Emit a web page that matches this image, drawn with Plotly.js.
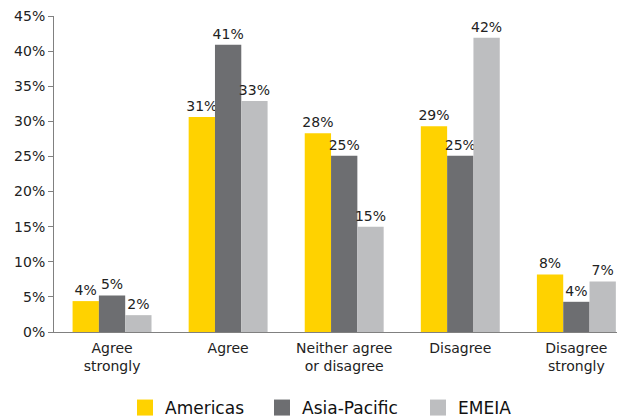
<!DOCTYPE html>
<html>
<head>
<meta charset="utf-8">
<script src="https://cdn.plot.ly/plotly-3.0.1.min.js"></script>
<style>html,body{margin:0;padding:0;background:#fff}#chart{width:617px;height:418px}</style>
</head>
<body>
<div id="chart"></div>
<script>
const categories = ["Agree<br>strongly", "Agree", "Neither agree<br>or disagree", "Disagree", "Disagree<br>strongly"];
const seriesNames = ["Americas", "Asia-Pacific", "EMEIA"];
const americas = [4.4, 30.6, 28.3, 29.3, 8.2];
const asiaPacific = [5.2, 40.9, 25.1, 25.1, 4.3];
const emeia = [2.4, 32.9, 15.0, 41.9, 7.2];
const americasLabels = ["4%", "31%", "28%", "29%", "8%"];
const asiaPacificLabels = ["5%", "41%", "25%", "25%", "4%"];
const emeiaLabels = ["2%", "33%", "15%", "42%", "7%"];
const colors = ["#FFD200", "#6D6E71", "#BDBEC0"];

const font = "DejaVu Sans, sans-serif";
const values = [americas, asiaPacific, emeia];
const labels = [americasLabels, asiaPacificLabels, emeiaLabels];
const legendIds = ["legend", "legend2", "legend3"];
const legendX = [125, 262, 418];

const traces = [];
values.forEach((v, i) => {
  traces.push({
    type: "bar", x: categories, y: v, name: seriesNames[i],
    marker: {color: colors[i]},
    text: labels[i], textposition: "outside", cliponaxis: false, constraintext: "none",
    textfont: {family: font, size: 14, color: "#222"},
    showlegend: false, hoverinfo: "skip"
  });
});
seriesNames.forEach((n, i) => {
  traces.push({
    type: "scatter", mode: "markers", x: [null], y: [null], name: n,
    marker: {symbol: "square", size: 18, color: colors[i]},
    showlegend: true, legend: legendIds[i]
  });
});

const layout = {
  width: 617, height: 418,
  margin: {l: 54, r: 0, t: 16, b: 86},
  paper_bgcolor: "#fff", plot_bgcolor: "#fff",
  barmode: "group", bargap: 0.32, bargroupgap: 0,
  font: {family: font, size: 14, color: "#222"},
  xaxis: {
    range: [-0.5, 4.35], showline: true, linecolor: "#808080", linewidth: 1,
    ticks: "", showgrid: false, zeroline: false, ticklabelstandoff: 3, automargin: false,
    tickfont: {family: font, size: 14, color: "#222"}
  },
  yaxis: {
    range: [0, 45], dtick: 5, ticksuffix: "%", showline: true, linecolor: "#808080", linewidth: 1,
    ticks: "outside", ticklen: 5, tickcolor: "#808080", showgrid: false, zeroline: false, automargin: false,
    tickfont: {family: font, size: 14, color: "#222"}
  }
};
legendIds.forEach((id, i) => {
  layout[id] = {
    orientation: "h", xref: "container", yref: "container",
    x: legendX[i] / 617, xanchor: "left", y: 10 / 418, yanchor: "middle",
    font: {family: font, size: 17, color: "#111"}, itemwidth: 30, bgcolor: "rgba(0,0,0,0)"
  };
});

Plotly.newPlot("chart", traces, layout, {displayModeBar: false, staticPlot: true});
</script>
</body>
</html>
